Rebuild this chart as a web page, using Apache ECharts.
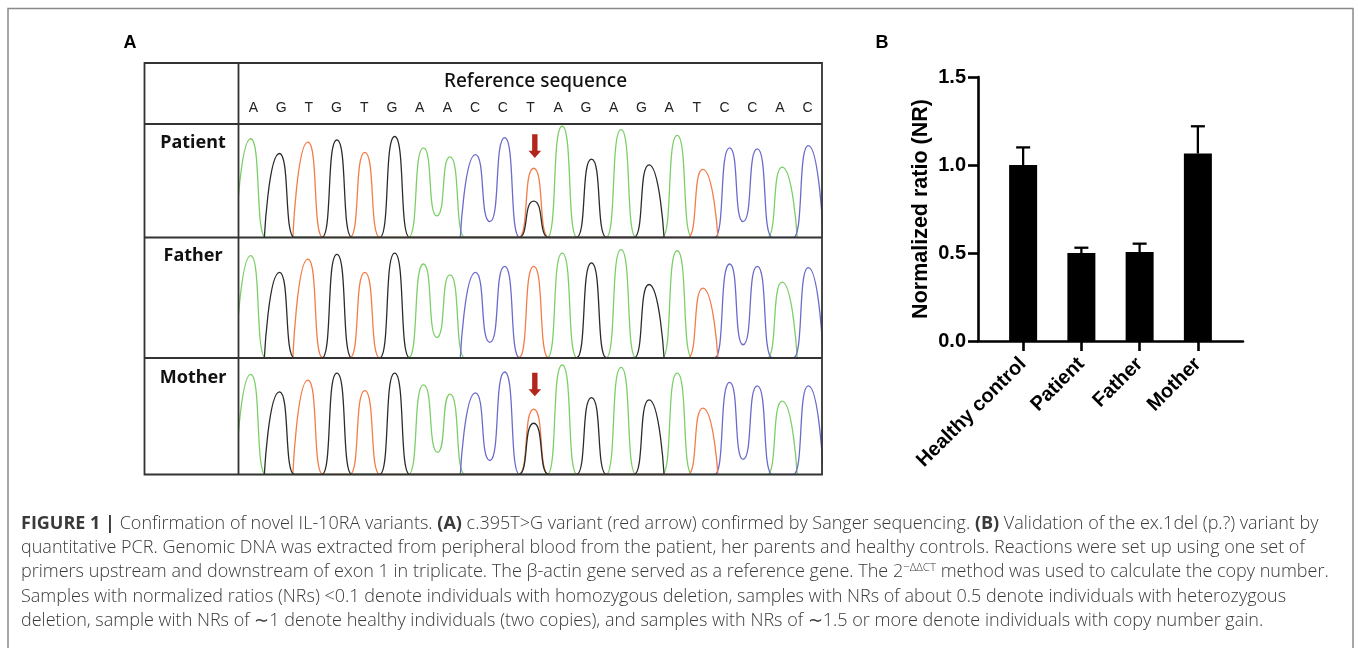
<!DOCTYPE html>
<html><head><meta charset="utf-8">
<script src="https://cdn.jsdelivr.net/npm/echarts@6/dist/echarts.min.js"></script>
<style>html,body{margin:0;padding:0;background:#fff}#c{width:1358px;height:648px}</style>
</head><body><div id="c"></div>
<script>
// ---------- Panel A data (Sanger chromatogram) ----------
const bases = ['A','G','T','G','T','G','A','A','C','C','T','A','G','A','G','A','T','C','C','A','C'];
const basePos = [0, 1.03, 2.05, 3.09, 4.09, 5.16, 6.19, 7.14, 8.05, 9.10, 10.14, 11.16, 12.21, 13.27, 14.27, 15.28, 16.20, 17.16, 18.15, 19.04, 19.98];
const patientHeights = [87, 74, 84, 86, 75, 89, 79, 71, 73, 88, 61, 98, 69, 95, 64, 90, 60, 79, 78, 62, 81];
const patientExtra = [{index: 10, base: 'G', height: 32}];
const patientValleys = [['A', 6.67, 19], ['C', 8.57, 14], ['C', 17.64, 14]];
const fatherHeights = [85, 71, 82, 86, 71, 87, 78, 69, 71, 76, 76, 87, 79, 90, 61, 89, 58, 78, 76, 63, 75];
const fatherExtra = [];
const fatherValleys = [['A', 6.67, 17], ['C', 8.57, 13], ['C', 17.64, 11]];
const motherHeights = [86, 71, 81, 87, 72, 87, 77, 69, 70, 88, 56, 94, 66, 92, 64, 87, 57, 79, 76, 63, 76];
const motherExtra = [{index: 10, base: 'G', height: 44}];
const motherValleys = [['A', 6.70, 19], ['C', 8.57, 12], ['C', 17.64, 13]];
const arrowPatient = [10.18, 80.5];
const arrowMother = [10.18, 77.3];
const rowLabels = ['Patient', 'Father', 'Mother'];

// ---------- Panel B data (qPCR) ----------
const categories = ['Healthy control', 'Patient', 'Father', 'Mother'];
const ratioMean = [1.0, 0.50, 0.505, 1.065];
const ratioUpper = [1.10, 0.53, 0.553, 1.22];
const ratioAxis = {min: 0, max: 1.5, interval: 0.5};

// ---------- caption ----------
const captionLines = [
  '{b|FIGURE 1 |} Confirmation of novel IL-10RA variants. {b|(A)} c.395T>G variant (red arrow) confirmed by Sanger sequencing. {b|(B)} Validation of the ex.1del (p.?) variant by',
  'quantitative PCR. Genomic DNA was extracted from peripheral blood from the patient, her parents and healthy controls. Reactions were set up using one set of',
  'primers upstream and downstream of exon 1 in triplicate. The \u03b2-actin gene served as a reference gene. The 2{sup|\u2212\u0394\u0394CT} method was used to calculate the copy number.',
  'Samples with normalized ratios (NRs) <0.1 denote individuals with homozygous deletion, samples with NRs of about 0.5 denote individuals with heterozygous',
  'deletion, sample with NRs of \u223c1 denote healthy individuals (two copies), and samples with NRs of \u223c1.5 or more denote individuals with copy number gain.'
];

const baseColors = {A: '#7ccf68', G: '#2b2b2b', T: '#f47c48', C: '#6a6acc'};
const footHalf = 0.54;

function channelData(heights, extra, valleys, base) {
  const peaks = [];
  bases.forEach((b, i) => { if (b === base) peaks.push([basePos[i], heights[i]]); });
  extra.forEach(e => { if (e.base === base) peaks.push([basePos[e.index], e.height]); });
  peaks.sort((a, b) => a[0] - b[0]);
  const mine = valleys.filter(v => v[0] === base).map(v => [v[1], v[2]]);
  const between = (a, b) => mine.find(v => v[0] > a[0] && v[0] < b[0]);
  const pts = [];
  peaks.forEach((p, k) => {
    const vPrev = k > 0 ? between(peaks[k - 1], p) : null;
    if (!vPrev) pts.push([p[0] - footHalf, 0]);
    pts.push(p);
    const vNext = k < peaks.length - 1 ? between(p, peaks[k + 1]) : null;
    pts.push(vNext ? vNext : [p[0] + footHalf, 0]);
  });
  return pts;
}

const rows = [
  {heights: patientHeights, extra: patientExtra, valleys: patientValleys, arrow: arrowPatient, top: 124, height: 113.5},
  {heights: fatherHeights, extra: fatherExtra, valleys: fatherValleys, arrow: null, top: 237.5, height: 120.5},
  {heights: motherHeights, extra: motherExtra, valleys: motherValleys, arrow: arrowMother, top: 358, height: 116.5}
];

const grid = [], xAxis = [], yAxis = [], series = [];
rows.forEach((r, i) => {
  grid.push({left: 239.5, width: 582, top: r.top, height: r.height});
  xAxis.push({type: 'value', gridIndex: i, min: -0.4, max: 20.45, show: false});
  yAxis.push({type: 'value', gridIndex: i, min: 0, max: 100, show: false});
  ['A', 'C', 'T', 'G'].forEach(b => {
    series.push({type: 'line', xAxisIndex: i, yAxisIndex: i, data: channelData(r.heights, r.extra, r.valleys, b),
      smooth: 0.7, smoothMonotone: 'x', showSymbol: false, symbol: 'none', clip: true,
      lineStyle: {color: baseColors[b], width: 1.3}, silent: true});
  });
  if (r.arrow) {
    series.push({type: 'scatter', xAxisIndex: i, yAxisIndex: i, data: [r.arrow],
      symbol: 'path://M3.6,0 L9,0 L9,16.5 L12.6,16.5 L6.3,23.6 L0,16.5 L3.6,16.5 Z',
      symbolSize: [12.6, 23.6], itemStyle: {color: '#b3261c', opacity: 1}, z: 5, silent: true});
  }
});
// reference sequence letters as top category axis of the patient grid
xAxis.push({type: 'category', gridIndex: 0, position: 'top', data: bases, boundaryGap: true,
  axisLine: {show: false}, axisTick: {show: false},
  axisLabel: {margin: 9, fontSize: 14, color: '#222', fontFamily: '"Liberation Sans Narrow","Liberation Sans",sans-serif', interval: 0}});

// Panel B axes grid (3)
grid.push({left: 978, width: 265, top: 77, height: 264});
xAxis.push({type: 'value', gridIndex: 3, min: 0, max: 1, axisLine: {show: true, lineStyle: {color: '#000', width: 2.6}},
  axisTick: {show: false}, axisLabel: {show: false}, splitLine: {show: false}});
yAxis.push({type: 'value', gridIndex: 3, min: ratioAxis.min, max: ratioAxis.max, interval: ratioAxis.interval,
  axisLine: {show: true, lineStyle: {color: '#000', width: 2.6}},
  axisTick: {show: true, length: 10, lineStyle: {color: '#000', width: 2.6}},
  splitLine: {show: false},
  axisLabel: {margin: 12, fontSize: 20, fontWeight: 'bold', color: '#000', fontFamily: '"Liberation Sans",Arial,sans-serif',
    formatter: v => v.toFixed(1)},
  name: 'Normalized ratio (NR)', nameLocation: 'middle', nameGap: 46,
  nameTextStyle: {fontSize: 21.5, fontWeight: 'bold', color: '#000', fontFamily: '"Liberation Sans",Arial,sans-serif'}});
// Panel B bars grid (4)
grid.push({left: 994, width: 233, top: 77, height: 264});
xAxis.push({type: 'category', gridIndex: 4, data: categories, boundaryGap: true,
  axisLine: {show: false},
  axisTick: {show: true, alignWithLabel: true, length: 10, lineStyle: {color: '#000', width: 2.6}},
  axisLabel: {rotate: 45, margin: 20, fontSize: 20, fontWeight: 'bold', color: '#000', interval: 0,
    fontFamily: '"Liberation Sans",Arial,sans-serif'}});
yAxis.push({type: 'value', gridIndex: 4, min: ratioAxis.min, max: ratioAxis.max, show: false});
const xi = xAxis.length - 1, yi = yAxis.length - 1;
series.push({type: 'bar', xAxisIndex: xi, yAxisIndex: yi, data: ratioMean, barWidth: 28,
  itemStyle: {color: '#000'}, z: 2, silent: true});
series.push({type: 'custom', xAxisIndex: xi, yAxisIndex: yi, z: 3, silent: true,
  data: categories.map((c, i) => [i, ratioMean[i], ratioUpper[i]]),
  renderItem: function (params, api) {
    const x = api.value(0);
    const top = api.coord([x, api.value(2)]);
    const base = api.coord([x, api.value(1)]);
    const st = {stroke: '#000', lineWidth: 2.3};
    return {type: 'group', children: [
      {type: 'line', shape: {x1: top[0], y1: top[1], x2: base[0], y2: base[1]}, style: st},
      {type: 'line', shape: {x1: top[0] - 7, y1: top[1], x2: top[0] + 7, y2: top[1]}, style: st}
    ]};
  }});

// ---------- decorations ----------
const lineCol = '#333';
const graphic = [
  {type: 'rect', shape: {x: 8, y: 8.5, width: 1345, height: 660}, style: {fill: 'none', stroke: '#8a8a8a', lineWidth: 1.5}, silent: true},
  {type: 'rect', shape: {x: 144.5, y: 63, width: 677.5, height: 411.5}, style: {fill: 'none', stroke: lineCol, lineWidth: 1.8}, z: 10},
  {type: 'line', shape: {x1: 238.5, y1: 63, x2: 238.5, y2: 474.5}, style: {stroke: lineCol, lineWidth: 1.8}, z: 10},
  {type: 'line', shape: {x1: 144.5, y1: 124, x2: 822, y2: 124}, style: {stroke: lineCol, lineWidth: 1.8}, z: 10},
  {type: 'line', shape: {x1: 144.5, y1: 237.5, x2: 822, y2: 237.5}, style: {stroke: lineCol, lineWidth: 1.8}, z: 10},
  {type: 'line', shape: {x1: 144.5, y1: 358, x2: 822, y2: 358}, style: {stroke: lineCol, lineWidth: 1.8}, z: 10},
  {type: 'text', style: {x: 130, y: 43, text: 'A', align: 'center', verticalAlign: 'middle', font: 'bold 18px "Liberation Sans",Arial,sans-serif', fill: '#000'}},
  {type: 'text', style: {x: 882, y: 43, text: 'B', align: 'center', verticalAlign: 'middle', font: 'bold 18px "Liberation Sans",Arial,sans-serif', fill: '#000'}},
  {type: 'text', style: {x: 535.5, y: 82, text: 'Reference sequence', align: 'center', verticalAlign: 'middle', font: '500 19px "Noto Sans",sans-serif', fill: '#111'}}
];
rowLabels.forEach((t, i) => {
  graphic.push({type: 'text', style: {x: 193, y: [143, 256, 378][i], text: t, align: 'center', verticalAlign: 'middle',
    font: 'bold 18px "Noto Sans",sans-serif', fill: '#111'}});
});
const capFont = '"Open Sans","Liberation Sans",Arial,sans-serif';
captionLines.forEach((t, i) => {
  graphic.push({type: 'text', style: {x: 21, y: 523.5 + i * 24.4, text: t, verticalAlign: 'middle',
    fontSize: 18, fontWeight: 300, fontFamily: capFont, fill: '#3a3a3a', lineHeight: 22,
    rich: {
      b: {fontWeight: 'bold', fontSize: 18, fontFamily: capFont, fill: '#3a3a3a', lineHeight: 22},
      sup: {fontSize: 11.5, fontWeight: 300, fontFamily: capFont, fill: '#3a3a3a', verticalAlign: 'top', lineHeight: 13}
    }}});
});

const chart = echarts.init(document.getElementById('c'), null, {renderer: 'canvas'});
chart.setOption({animation: false, backgroundColor: '#fff', grid, xAxis, yAxis, series, graphic});
</script></body></html>
